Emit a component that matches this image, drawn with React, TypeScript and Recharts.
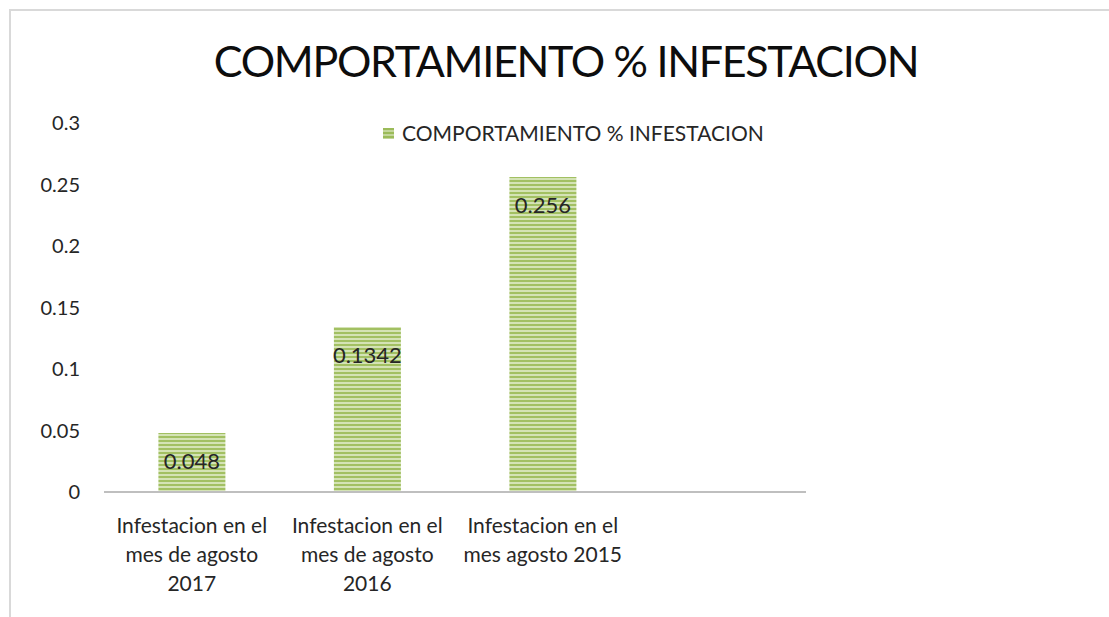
import { Bar, BarChart, LabelList, Legend, XAxis, YAxis } from "recharts";

const categories = [
    "Infestacion en el\nmes de agosto\n2017",
    "Infestacion en el\nmes de agosto\n2016",
    "Infestacion en el\nmes agosto 2015",
    "",
];
const infestation = [0.048, 0.1342, 0.256, null];
const yTicks = [0, 0.05, 0.1, 0.15, 0.2, 0.25, 0.3];
const seriesName = "COMPORTAMIENTO % INFESTACION";
const title = "COMPORTAMIENTO % INFESTACION";

const data = categories.map((name, i) => ({ name, value: infestation[i] }));

const FONT = "Lato, 'Open Sans', sans-serif";

function CategoryTick(props: any) {
    const { x, y, payload } = props;
    const lines = String(payload.value).split("\n").filter((l) => l);
    return (
        <g transform={`translate(${x},${y})`}>
            {lines.map((line, i) => (
                <text
                    key={i}
                    x={0}
                    y={33 + i * 29}
                    textAnchor="middle"
                    fill="#262626"
                    fontSize={21}
                    fontFamily={FONT}
                >
                    {line}
                </text>
            ))}
        </g>
    );
}

function LegendContent() {
    return (
        <div
            style={{
                display: "flex",
                alignItems: "center",
                fontFamily: FONT,
                fontSize: 21,
                lineHeight: "24px",
                color: "#262626",
            }}
        >
            <span
                style={{
                    width: 11,
                    height: 11,
                    backgroundImage:
                        "repeating-linear-gradient(#9bbb59 0 2px, #c3d69b 2px 4px)",
                    marginRight: 8,
                    display: "inline-block",
                }}
            />
            {seriesName}
        </div>
    );
}

export default function App() {
    return (
        <div
            style={{
                position: "fixed",
                left: 0,
                top: 0,
                width: 1109,
                height: 617,
                background: "#fff",
                overflow: "hidden",
            }}
        >
            <div
                style={{
                    position: "absolute",
                    left: 9,
                    top: 9,
                    width: 1300,
                    height: 800,
                    border: "2px solid #d9d9d9",
                }}
            />
            <div
                style={{
                    position: "absolute",
                    left: 0,
                    top: 35,
                    width: 1132,
                    textAlign: "center",
                    fontFamily: FONT,
                    fontSize: 43,
                    letterSpacing: -1.3,
                    lineHeight: "52px",
                    color: "#0d0d0d",
                }}
            >
                {title}
            </div>
            <div style={{ position: "absolute", left: 0, top: 0 }}>
                <BarChart
                    width={1109}
                    height={617}
                    data={data}
                    margin={{ top: 123, right: 303, left: 44, bottom: 25 }}
                    barCategoryGap="31%"
                >
                    <defs>
                        <pattern
                            id="stripes"
                            patternUnits="userSpaceOnUse"
                            width={8}
                            height={4}
                        >
                            <rect width={8} height={4} fill="#d4e3b5" />
                            <rect width={8} height={2} fill="#a2c062" />
                        </pattern>
                    </defs>
                    <XAxis
                        dataKey="name"
                        height={100}
                        interval={0}
                        tickLine={false}
                        axisLine={{ stroke: "#bfbfbf", strokeWidth: 2 }}
                        tick={<CategoryTick />}
                    />
                    <YAxis
                        width={60}
                        domain={[0, 0.3]}
                        ticks={yTicks}
                        axisLine={false}
                        tickLine={false}
                        tickMargin={18}
                        tick={{ fill: "#262626", fontSize: 20, fontFamily: FONT }}
                    />
                    <Legend
                        verticalAlign="middle"
                        content={<LegendContent />}
                        wrapperStyle={{ top: 121, left: 383, width: 420 }}
                    />
                    <Bar
                        dataKey="value"
                        name={seriesName}
                        fill="url(#stripes)"
                        isAnimationActive={false}
                    >
                        <LabelList
                            dataKey="value"
                            position="insideTop"
                            offset={20}
                            fill="#262626"
                            fontSize={22}
                            fontFamily={FONT}
                            formatter={(v: any) => (v == null ? "" : String(v))}
                        />
                    </Bar>
                </BarChart>
            </div>
        </div>
    );
}
